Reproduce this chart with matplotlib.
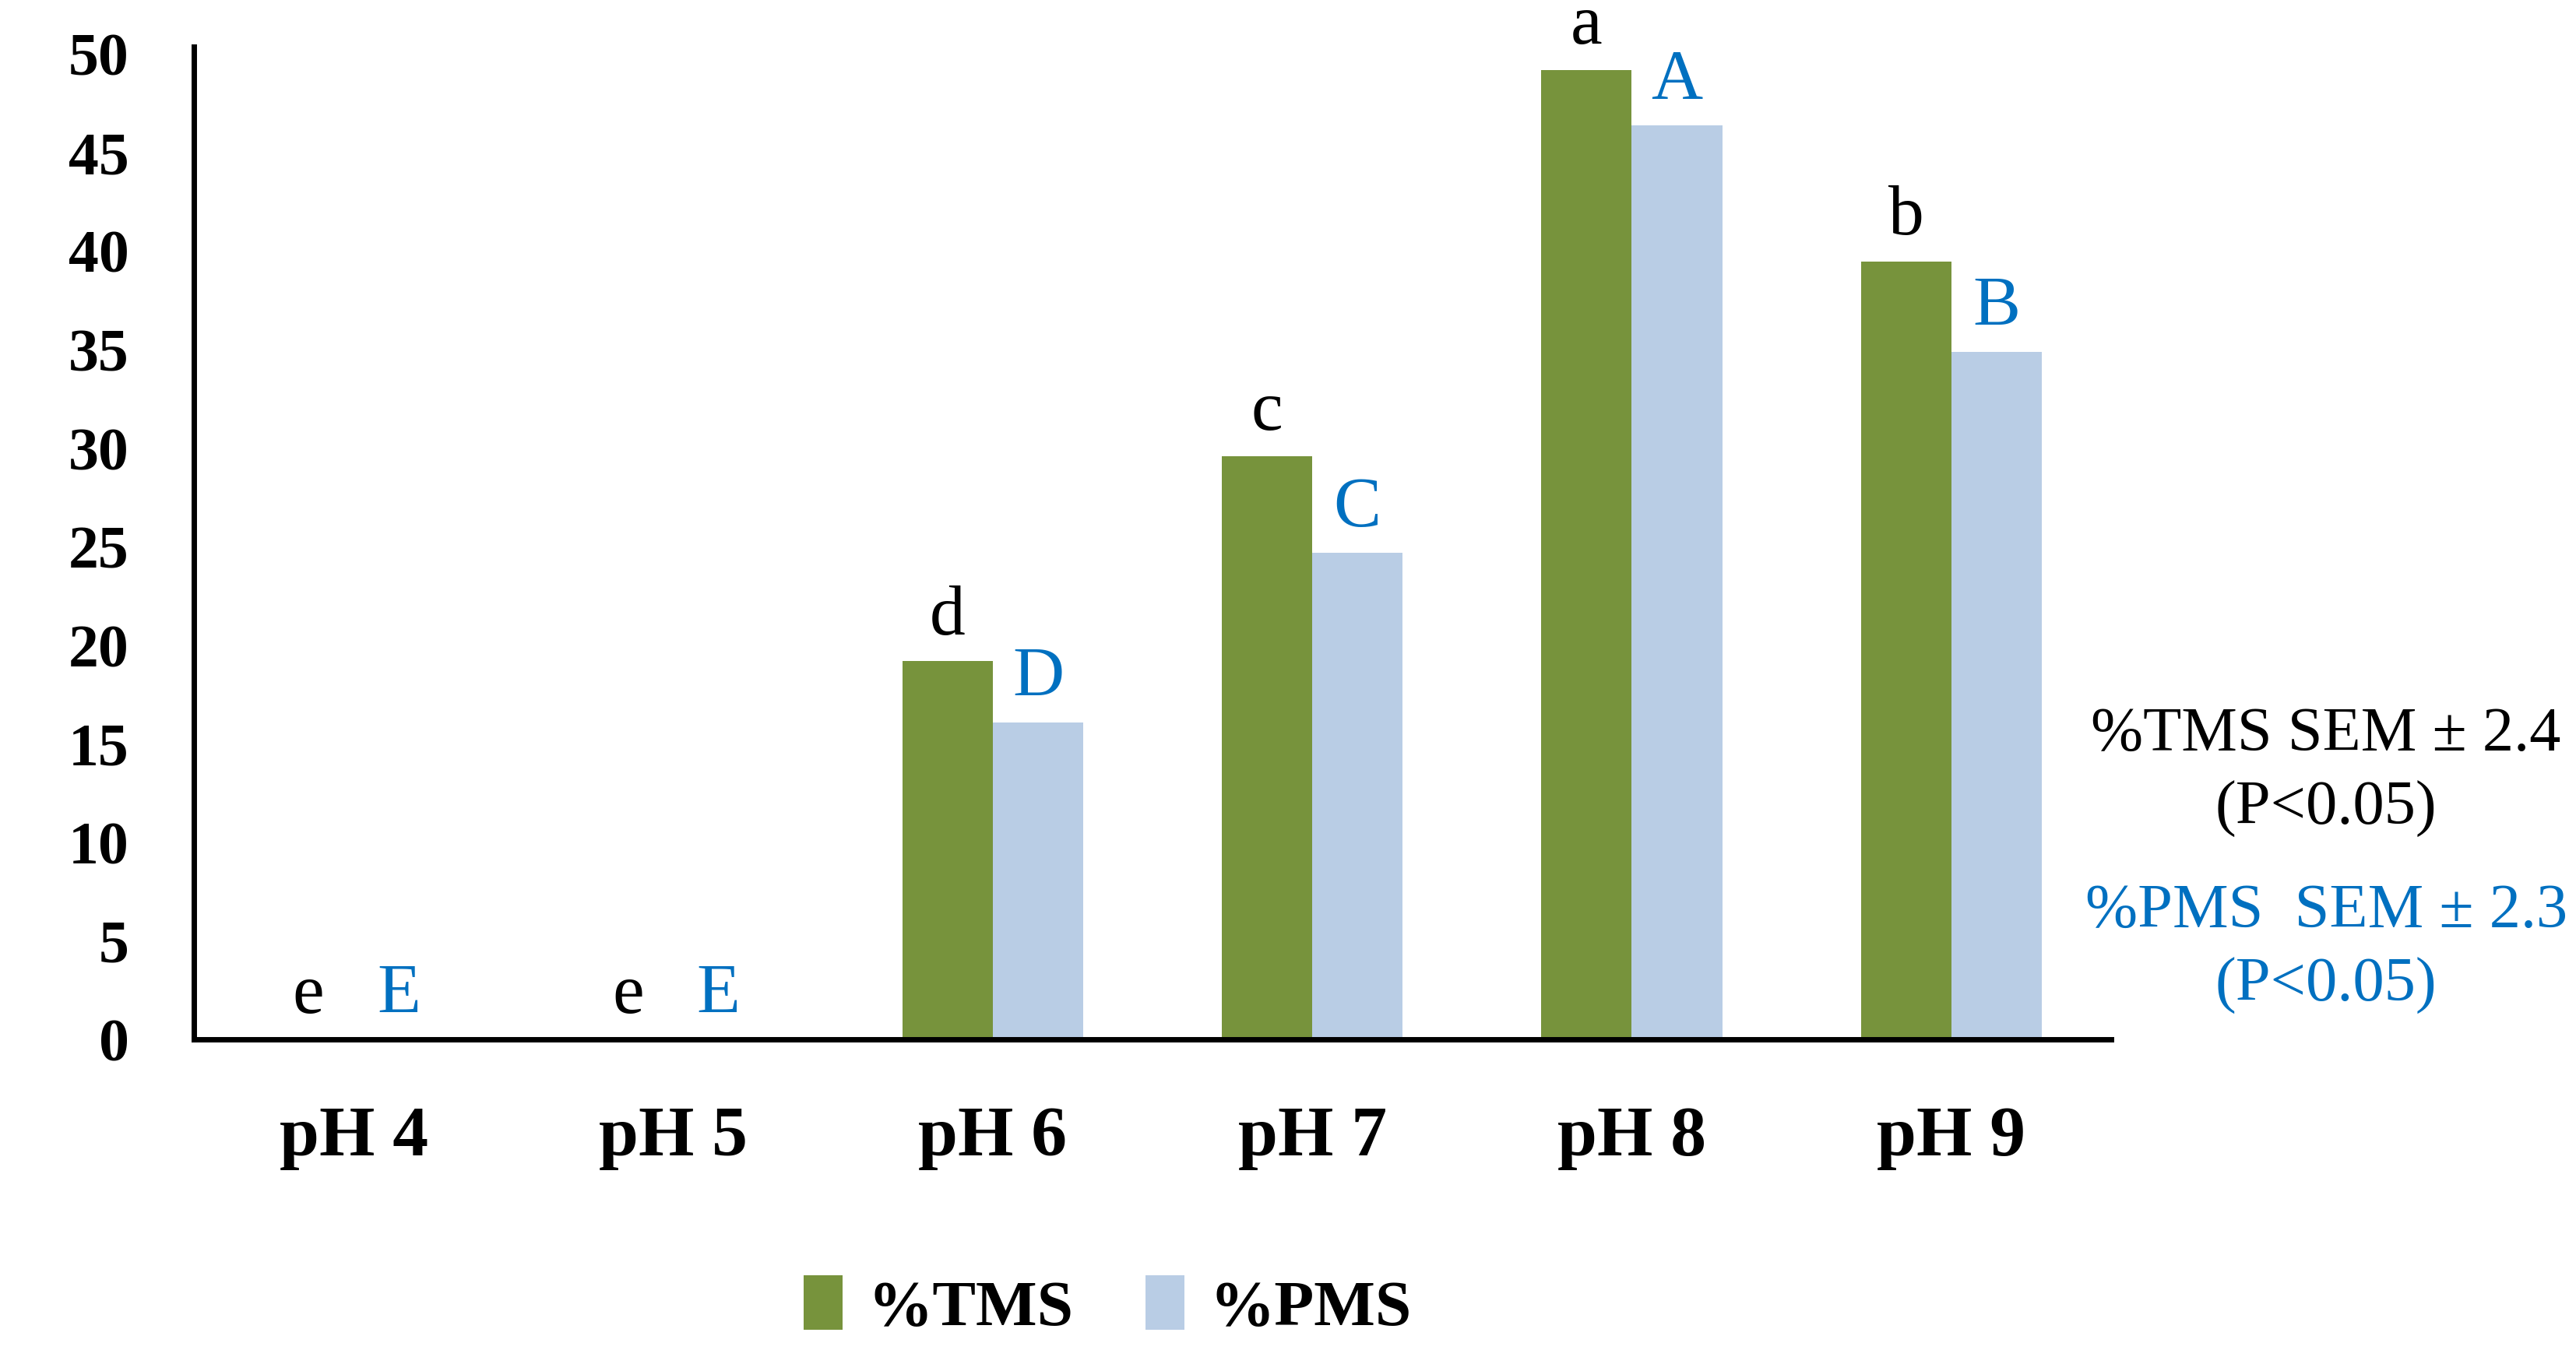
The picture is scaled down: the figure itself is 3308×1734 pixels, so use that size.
import matplotlib.pyplot as plt
import numpy as np

plt.rcParams['font.family'] = ['Liberation Serif', 'DejaVu Serif']

# Data
categories = ["pH 4", "pH 5", "pH 6", "pH 7", "pH 8", "pH 9"]
tms = [0, 0, 19.2, 29.6, 49.2, 39.5]
pms = [0, 0, 16.1, 24.7, 46.4, 34.9]
tms_letters = ["e", "e", "d", "c", "a", "b"]
pms_letters = ["E", "E", "D", "C", "A", "B"]

green = "#77933C"
light_blue = "#B9CDE5"
text_blue = "#0070C0"

fig = plt.figure(figsize=(33.08, 17.34), dpi=100)
ax = fig.add_axes([0.0753, 0.230, 0.7442, 0.7355])

x = np.arange(len(categories))
w = 0.283
ax.bar(x - w / 2, tms, w, color=green, label="%TMS")
ax.bar(x + w / 2, pms, w, color=light_blue, label="%PMS")

# significance letters
for i in range(len(categories)):
    ax.text(x[i] - w / 2, tms[i] + 0.6, tms_letters[i], ha="center", va="bottom",
            fontsize=66, color="black", clip_on=False)
    ax.text(x[i] + w / 2, pms[i] + 0.6, pms_letters[i], ha="center", va="bottom",
            fontsize=66, color=text_blue, clip_on=False)

ax.set_xlim(-0.5, 5.5)
ax.set_ylim(0, 50.4)
ax.set_yticks(range(0, 51, 5))
ax.set_xticks(x)
ax.set_xticklabels(categories, fontsize=66, fontweight="bold")
ax.tick_params(axis="y", labelsize=56, length=0, pad=60)
ax.tick_params(axis="x", length=0, pad=62)
for lab in ax.get_yticklabels():
    lab.set_fontweight("bold")

for side in ["top", "right"]:
    ax.spines[side].set_visible(False)
for side in ["left", "bottom"]:
    ax.spines[side].set_linewidth(5)

# SEM notes on the right
fig.text(0.903, 0.428, "%TMS SEM \u00b1 2.4\n(P<0.05)", ha="center", va="center",
         fontsize=58, color="black", linespacing=1.4)
fig.text(0.903, 0.297, "%PMS  SEM \u00b1 2.3\n(P<0.05)", ha="center", va="center",
         fontsize=58, color=text_blue, linespacing=1.4)

leg = fig.legend(loc="lower center", bbox_to_anchor=(0.43, -0.035), ncol=2,
                 frameon=False, prop={"size": 60, "weight": "bold"},
                 handlelength=0.6, handleheight=0.9, handletextpad=0.4,
                 columnspacing=1.1)

fig.savefig("out.png", dpi=100)
